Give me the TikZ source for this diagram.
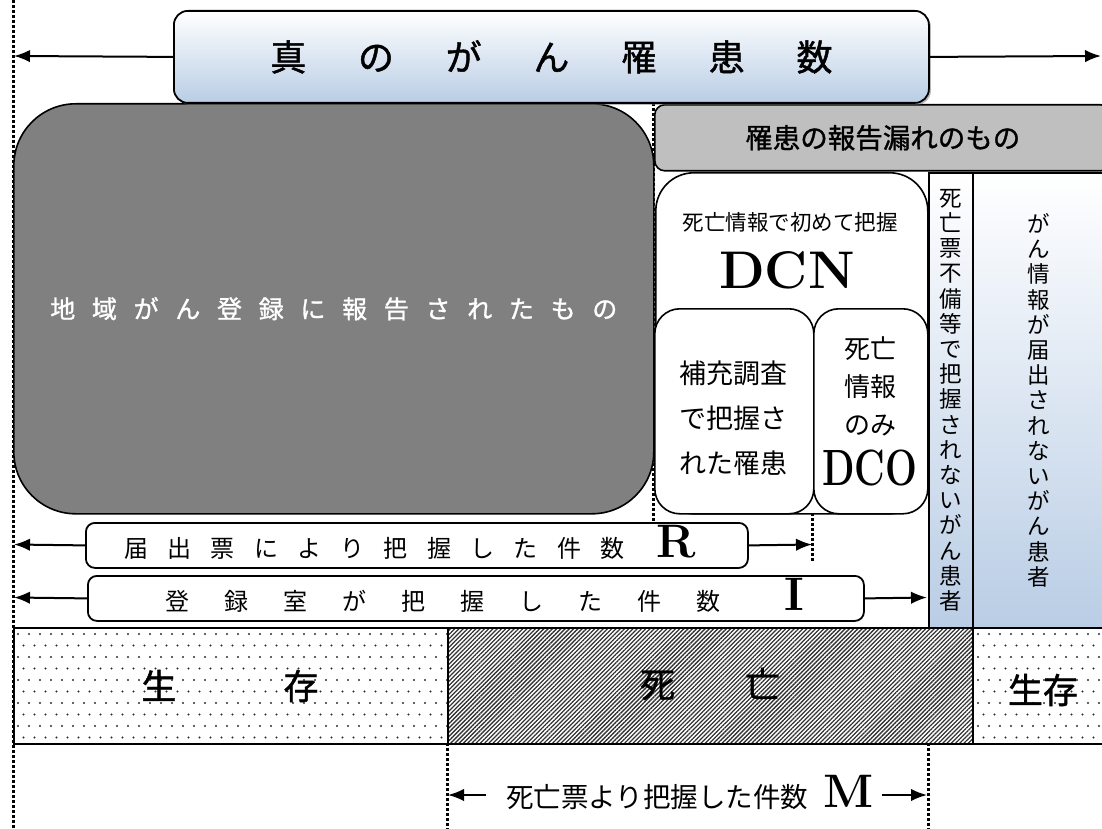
\documentclass[tikz,border=0pt]{standalone}
\usepackage{fontspec}
\newfontfamily\jp{Noto Sans CJK JP}
\newfontfamily\jpm{Noto Sans CJK JP}[FakeBold=1.2]
\usetikzlibrary{arrows.meta,shadows,patterns.meta}
\definecolor{darkbox}{RGB}{128,128,128}
\definecolor{lbl}{RGB}{191,191,191}
\definecolor{blueb}{RGB}{185,205,229}
\definecolor{hatchc}{RGB}{50,50,50}
\definecolor{dotc}{RGB}{45,45,45}
\makeatletter
\newcommand\pitched[2]{\@tfor\pch:=#2\do{\makebox[#1]{\pch}}}
\newcommand\vstack[2]{\vbox{\baselineskip=#1\relax\lineskiplimit=-30pt\relax\@tfor\pch:=#2\do{\hbox{\pch}}}}
\makeatother
\begin{document}
\begin{tikzpicture}[x=1pt,y=-1pt,
  dotline/.style={line width=3pt, dash pattern=on 3pt off 2pt},
  arr/.style={line width=2pt, -{Latex[length=16pt,width=12.5pt]}},
  frame/.style={draw=black, line width=1.6pt, inner sep=0pt},
  tx/.style={inner sep=0pt},
  jpf/.style={font={\jp\fontsize{#1}{#1}\selectfont}},
  jpmf/.style={font={\jpm\fontsize{#1}{#1}\selectfont}},
  latf/.style={font={\rmfamily\bfseries\fontsize{#1}{#1}\selectfont}}
]
\useasboundingbox (0,0) rectangle (1102,829);
\clip (0,0) rectangle (1102,829);

% dotted guide lines
\draw[dotline] (13,0) -- (13,829);
\draw[dotline] (653,103) -- (653,522);
\draw[dotline] (812,308) -- (812,562);
\draw[dotline] (447,743) -- (447,829);
\draw[dotline] (928,743) -- (928,829);

% bottom bar: dots
\begin{scope}
  \clip (13,627) rectangle (447,743);
  \foreach \r in {0,...,9} {
    \foreach \c in {0,...,40} {
      \pgfmathsetmacro\xx{18+\c*11+mod(\r,2)*5.5}
      \pgfmathsetmacro\yy{634+\r*11.5}
      \fill[dotc] (\xx,\yy) circle (1.1pt);
    }
  }
\end{scope}
\begin{scope}
  \clip (972,627) rectangle (1102,743);
  \foreach \r in {0,...,9} {
    \foreach \c in {0,...,12} {
      \pgfmathsetmacro\xx{978+\c*11+mod(\r,2)*5.5}
      \pgfmathsetmacro\yy{634+\r*11.5}
      \fill[dotc] (\xx,\yy) circle (1.1pt);
    }
  }
\end{scope}
\fill[pattern={Lines[angle=45,distance=3pt,line width=1.3pt]}, pattern color=hatchc] (447,627) rectangle (972,743);
\node[frame, minimum width=434pt, minimum height=116pt, anchor=north west] (alive1) at (13,627) {};
\node[frame, minimum width=525pt, minimum height=116pt, anchor=north west] (dead) at (447,627) {};
\node[frame, minimum width=132pt, minimum height=116pt, anchor=north west] (alive2) at (972,627) {};
\node[tx, jpmf=35pt] (t1) at (230,686) {\pitched{142pt}{生存}};
\node[tx, jpmf=35pt] (t2) at (710,684) {\pitched{105pt}{死亡}};
\node[tx, jpmf=35pt] (t3) at (1043,690) {生存};

% right columns
\node[frame, top color=white, bottom color=blueb, minimum width=44pt, minimum height=455pt, anchor=north west, font={\jp\fontsize{22.5pt}{25.2pt}\selectfont}] (col1) at (928,172) {\vstack{25.2pt}{死亡票不備等で把握されないがん患者}};
\node[frame, top color=white, bottom color=blueb, minimum width=132pt, minimum height=455pt, anchor=north west, font={\jp\fontsize{22.5pt}{25.2pt}\selectfont}] (col2) at (972,172) {\vstack{25.2pt}{がん情報が届出されないがん患者}};

% missing-report label
\node[frame, fill=lbl, rounded corners=10pt, minimum width=456pt, minimum height=66pt, anchor=north west, jpmf=27.5pt] (miss) at (654,104) {罹患の報告漏れのもの};

% reported registry
\node[frame, fill=darkbox, rounded corners=62pt, minimum width=640pt, minimum height=410pt, anchor=north west, text=white, jpmf=25pt] (reg) at (13,103) {\pitched{41.7pt}{地域がん登録に報告されたもの}};

% DCN box
\node[frame, fill=white, rounded corners=38pt, minimum width=272pt, minimum height=341pt, anchor=north west] (dcnbox) at (655,172) {};
\node[tx, jpf=21.5pt] (dcnt) at (790,222) {死亡情報で初めて把握};
\node[tx, latf=53pt] (dcn) at (787,270) {DCN};
\node[frame, fill=white, rounded corners=25pt, minimum width=159pt, minimum height=205pt, anchor=north west] (supp) at (654,308) {};
\node[tx, align=center, font={\jp\fontsize{27pt}{45pt}\selectfont}] (suppt) at (733,418) {補充調査\\で把握さ\\れた罹患};
\node[frame, fill=white, rounded corners=25pt, minimum width=114pt, minimum height=205pt, anchor=north west] (dcobox) at (813,308) {};
\node[tx, align=center, font={\jp\fontsize{26pt}{38pt}\selectfont}] (dcot) at (870,386) {死亡\\情報\\のみ};
\node[tx, latf=51pt] (dco) at (870,468) {\scalebox{0.74}[1]{DCO}};

% title
\node[frame, line width=1.8pt, rounded corners=14pt, top color=white, bottom color=blueb, drop shadow={shadow xshift=2pt, shadow yshift=-2pt, fill=black!55}, minimum width=755pt, minimum height=92pt, anchor=north west, jpmf=36pt] (title) at (173,10) {\pitched{87.7pt}{真のがん罹患数}};
\coordinate (tl) at (14,56);
\coordinate (tr) at (1101,56);
\draw[arr] (title.west) -- (tl);
\draw[arr] (title.east) -- (tr);

% R box
\node[frame, line width=1.8pt, fill=white, rounded corners=9pt, minimum width=662pt, minimum height=45pt, anchor=north west] (rbox) at (85,522) {};
\node[tx, jpf=24pt, anchor=base] (rt) at (405,557) {\pitched{43.3pt}{届出票により把握した件数}\hspace{22pt}{\rmfamily\bfseries\fontsize{47pt}{47pt}\selectfont R}};
\coordinate (rl) at (14,544.5);
\coordinate (rr) at (812,544.5);
\draw[arr] (rbox.west) -- (rl);
\draw[arr] (rbox.east) -- (rr);

% I box
\node[frame, line width=1.8pt, fill=white, rounded corners=9pt, minimum width=776pt, minimum height=45pt, anchor=north west] (ibox) at (87,575) {};
\node[tx, jpf=24pt, anchor=base] (it) at (476,610) {\pitched{59pt}{登録室が把握した件数}\hspace{47pt}{\rmfamily\bfseries\fontsize{47pt}{47pt}\selectfont I}};
\coordinate (il) at (14,597.5);
\coordinate (ir) at (927,597.5);
\draw[arr] (ibox.west) -- (il);
\draw[arr] (ibox.east) -- (ir);

% M row
\node[tx, jpf=27.5pt, anchor=base] (mt) at (690,807) {死亡票より把握した件数\hspace{15pt}{\rmfamily\bfseries\fontsize{47pt}{47pt}\selectfont M}};
\coordinate (ml) at (448,795);
\coordinate (mr) at (927,795);
\draw[arr] ([xshift=-20pt,yshift=12pt]mt.base west) -- (ml);
\draw[arr] ([xshift=8pt,yshift=12pt]mt.base east) -- (mr);
\end{tikzpicture}
\end{document}
